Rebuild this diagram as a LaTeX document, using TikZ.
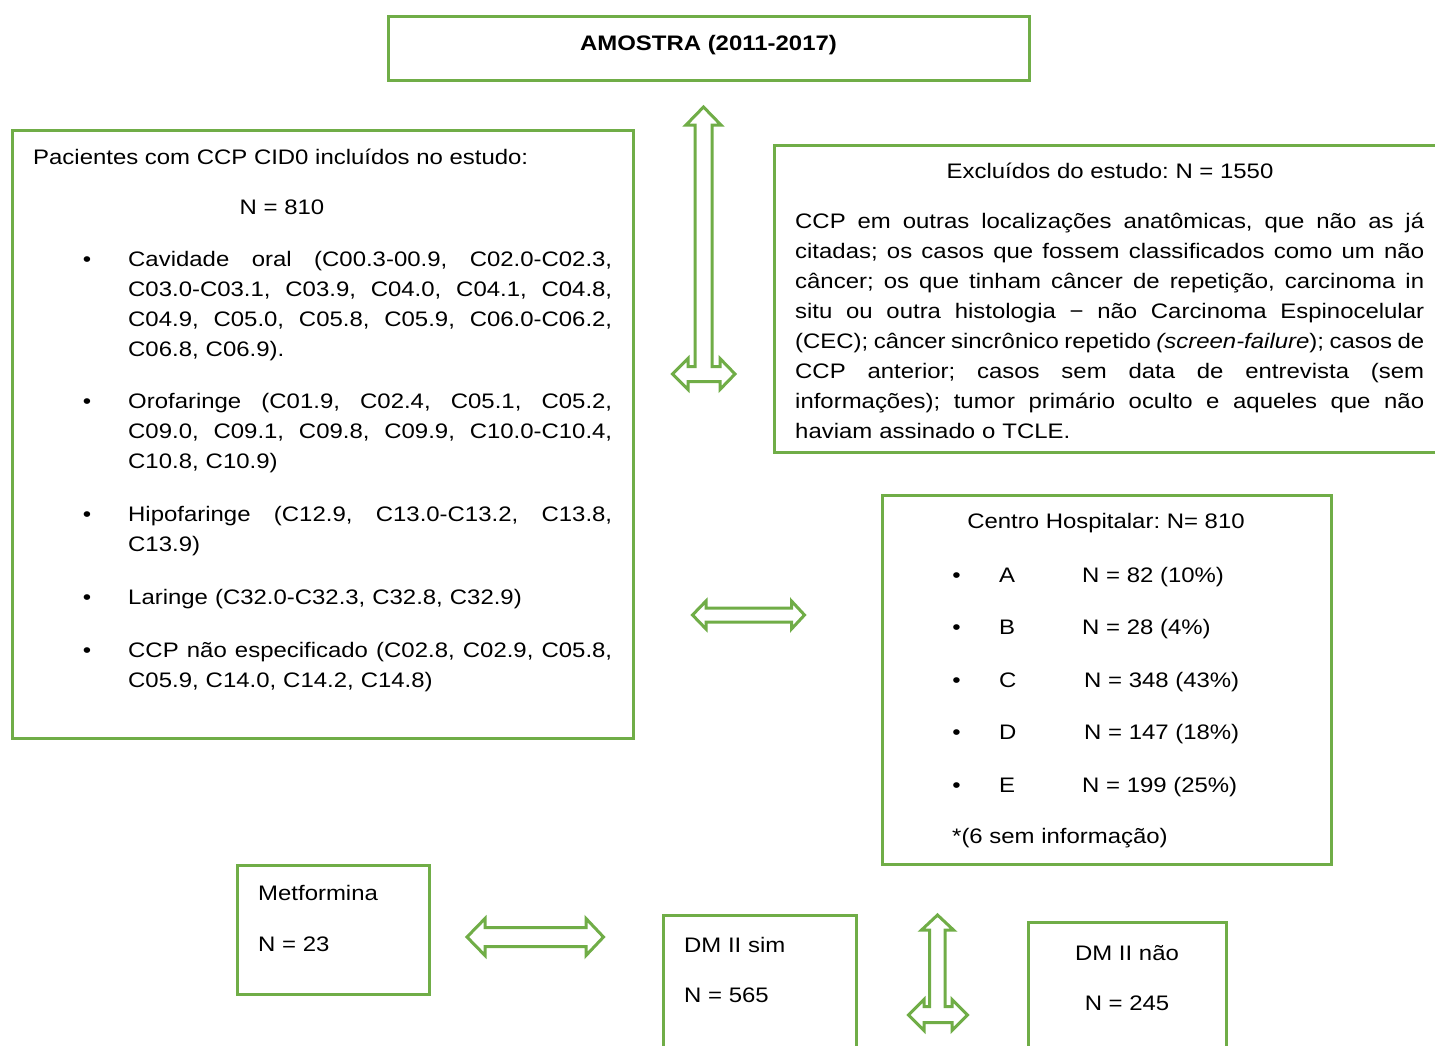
\documentclass[tikz,border=0pt]{standalone}
\usepackage{fontspec}
\setmainfont{Liberation Sans}[FakeStretch=1.14]
\definecolor{grn}{HTML}{70AD47}
\newcommand\LJ[1]{\makebox[484pt][s]{\frenchspacing\spaceskip=\fontdimen2\font plus 1fil minus 0.1em\relax #1}}
\newcommand\RJ[1]{\makebox[629pt][s]{\frenchspacing\spaceskip=\fontdimen2\font plus 1fil minus 0.1em\relax #1}}
\AtBeginDocument{\frenchspacing}
\begin{document}
\begin{tikzpicture}[x=1pt,y=-1pt,
  box/.style={draw=grn, line width=3pt, fill=white, inner sep=0pt, outer sep=0pt},
  barrow/.style={draw=grn, line width=3pt, fill=white, line join=miter},
  txt/.style={inner sep=0pt, font=\fontsize{21}{30}\selectfont\frenchspacing},
  btxt/.style={inner sep=0pt, font=\fontsize{21}{30}\selectfont\bfseries},
  lpara/.style={txt, text width=484pt, align=left, anchor=base west},
  rpara/.style={txt, text width=629pt, align=left, anchor=base west}]
\clip (0,0) rectangle (1435,1045);
\fill[white] (0,0) rectangle (1435,1045);

% boxes
\node[box, minimum width=641pt, minimum height=64pt] (top) at (708.5,48) {};
\node[box, minimum width=621pt, minimum height=608pt] (left) at (322.5,434) {};
\node[box, minimum width=673pt, minimum height=307pt] (excl) at (1110.5,298.5) {};
\node[box, minimum width=449pt, minimum height=369pt] (centro) at (1106.5,679.5) {};
\node[box, minimum width=192pt, minimum height=129pt] (metf) at (333,929.5) {};
\node[box, minimum width=193pt, minimum height=145pt] (dmsim) at (759.5,987.5) {};
\node[box, minimum width=198pt, minimum height=138pt] (dmnao) at (1127,991) {};

% block arrows
\draw[barrow] (703.5,107) -- (721,125) -- (712,125) -- (712,366.5) -- (720,366.5) -- (720,358.5)
  -- (735,374) -- (720,389.5) -- (720,381.5) -- (688,381.5) -- (688,389.5) -- (672.5,374)
  -- (688,358.5) -- (688,366.5) -- (695,366.5) -- (695,125) -- (686,125) -- cycle;
\draw[barrow] (692.5,615) -- (706,601) -- (706,608) -- (791.5,608) -- (791.5,601) -- (804.5,615)
  -- (791.5,629) -- (791.5,622) -- (706,622) -- (706,629) -- cycle;
\draw[barrow] (467,937) -- (485,918.5) -- (485,927.5) -- (586,927.5) -- (586,918.5) -- (603.5,937)
  -- (586,955.5) -- (586,946.5) -- (485,946.5) -- (485,955.5) -- cycle;
\draw[barrow] (937.5,915) -- (953.5,930) -- (945,930) -- (945,1006.5) -- (952,1006.5) -- (952,999.5)
  -- (967.5,1015) -- (952,1030.5) -- (952,1022.5) -- (924,1022.5) -- (924,1030.5) -- (908.5,1015)
  -- (924,999.5) -- (924,1006.5) -- (929.5,1006.5) -- (929.5,930) -- (921.5,930) -- cycle;

% top
\node[btxt, anchor=base] (tA) at (708.5,50.5) {AMOSTRA (2011-2017)};

% left box
\node[txt, anchor=base west] (lt) at (33,164.5) {Pacientes com CCP CID0 incluídos no estudo:};
\node[txt, anchor=base] (ln) at (282,214.5) {N = 810};
\node[txt, anchor=base] (lb1) at (87,266.5) {•};
\node[lpara] (lp1) at (128,266.5) {\LJ{Cavidade oral (C00.3-00.9, C02.0-C02.3,}\\
  \LJ{C03.0-C03.1, C03.9, C04.0, C04.1, C04.8,}\\
  \LJ{C04.9, C05.0, C05.8, C05.9, C06.0-C06.2,}\\
  C06.8, C06.9).};
\node[txt, anchor=base] (lb2) at (87,408.5) {•};
\node[lpara] (lp2) at (128,408.5) {\LJ{Orofaringe (C01.9, C02.4, C05.1, C05.2,}\\
  \LJ{C09.0, C09.1, C09.8, C09.9, C10.0-C10.4,}\\
  C10.8, C10.9)};
\node[txt, anchor=base] (lb3) at (87,521.5) {•};
\node[lpara] (lp3) at (128,521.5) {\LJ{Hipofaringe (C12.9, C13.0-C13.2, C13.8,}\\
  C13.9)};
\node[txt, anchor=base] (lb4) at (87,604.5) {•};
\node[lpara] (lp4) at (128,604.5) {Laringe (C32.0-C32.3, C32.8, C32.9)};
\node[txt, anchor=base] (lb5) at (87,657.5) {•};
\node[lpara] (lp5) at (128,657.5) {\LJ{CCP não especificado (C02.8, C02.9, C05.8,}\\
  C05.9, C14.0, C14.2, C14.8)};

% excluded box
\node[txt, anchor=base] (et) at (1110,178.5) {Excluídos do estudo: N = 1550};
\node[rpara] (ep) at (795,228.5) {\RJ{CCP em outras localizações anatômicas, que não as já}\\
  \RJ{citadas; os casos que fossem classificados como um não}\\
  \RJ{câncer; os que tinham câncer de repetição, carcinoma in}\\
  \RJ{situ ou outra histologia − não Carcinoma Espinocelular}\\
  \RJ{(CEC); câncer sincrônico repetido \textit{(screen-failure}); casos de}\\
  \RJ{CCP anterior; casos sem data de entrevista (sem}\\
  \RJ{informações); tumor primário oculto e aqueles que não}\\
  haviam assinado o TCLE.};

% centro box
\node[txt, anchor=base] (ct) at (1106,528.5) {Centro Hospitalar: N= 810};
\node[txt, anchor=base] (cb1) at (956.5,582) {•};
\node[txt, anchor=base west] (cl1) at (999,582) {A};
\node[txt, anchor=base west] (cn1) at (1082,582) {N = 82 (10\%)};
\node[txt, anchor=base] (cb2) at (956.5,634.5) {•};
\node[txt, anchor=base west] (cl2) at (999,634.5) {B};
\node[txt, anchor=base west] (cn2) at (1082,634.5) {N = 28 (4\%)};
\node[txt, anchor=base] (cb3) at (956.5,687.5) {•};
\node[txt, anchor=base west] (cl3) at (999,687.5) {C};
\node[txt, anchor=base west] (cn3) at (1084,687.5) {N = 348 (43\%)};
\node[txt, anchor=base] (cb4) at (956.5,739.5) {•};
\node[txt, anchor=base west] (cl4) at (999,739.5) {D};
\node[txt, anchor=base west] (cn4) at (1084,739.5) {N = 147 (18\%)};
\node[txt, anchor=base] (cb5) at (956.5,792.5) {•};
\node[txt, anchor=base west] (cl5) at (999,792.5) {E};
\node[txt, anchor=base west] (cn5) at (1082,792.5) {N = 199 (25\%)};
\node[txt, anchor=base west] (cnote) at (952,843.5) {*(6 sem informação)};

% bottom boxes
\node[txt, anchor=base west] (mt) at (258,900.5) {Metformina};
\node[txt, anchor=base west] (mn) at (258,951) {N = 23};
\node[txt, anchor=base west] (st) at (684,952) {DM II sim};
\node[txt, anchor=base west] (sn) at (684,1002.5) {N = 565};
\node[txt, anchor=base] (nt) at (1127,960) {DM II não};
\node[txt, anchor=base] (nn) at (1127,1010) {N = 245};
\end{tikzpicture}
\end{document}
